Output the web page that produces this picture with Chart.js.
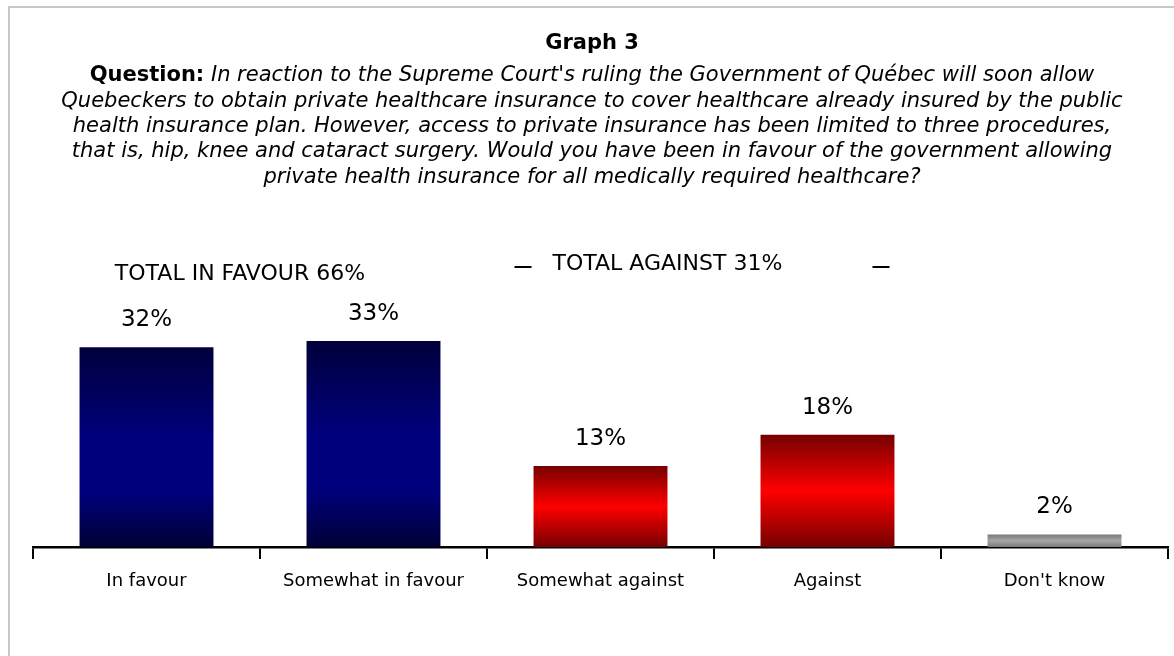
<!DOCTYPE html>
<html>
<head>
<meta charset="utf-8">
<script src="https://cdn.jsdelivr.net/npm/chart.js@4.4.1/dist/chart.umd.min.js"></script>
<style>
    html, body { margin: 0; padding: 0; background: #ffffff; }
    #wrap { position: relative; width: 1174px; height: 656px; }
</style>
</head>
<body>
<div id="wrap"><canvas id="graph3"></canvas></div>
<script>
// 데이터
const categories = ['In favour', 'Somewhat in favour', 'Somewhat against', 'Against', "Don't know"];
const percentValues = [32, 33, 13, 18, 2];
const barGroups = ['favour', 'favour', 'against', 'against', 'unknown'];
const graphTitle = 'Graph 3';
const questionLabel = 'Question:';
const questionLines = [
    " In reaction to the Supreme Court's ruling the Government of Québec will soon allow",
    'Quebeckers to obtain private healthcare insurance to cover healthcare already insured by the public',
    'health insurance plan. However, access to private insurance has been limited to three procedures,',
    'that is, hip, knee and cataract surgery. Would you have been in favour of the government allowing',
    'private health insurance for all medically required healthcare?'
];
const totalLabels = ['TOTAL IN FAVOUR 66%', 'TOTAL AGAINST 31%'];

const SANS = '"DejaVu Sans", Verdana, sans-serif';

// 그라데이션 색상 (위치, 색)
const gradientStops = {
    favour:  [[0, '#00003c'], [0.45, '#00007c'], [0.72, '#00007c'], [1, '#000036']],
    against: [[0, '#760000'], [0.5, '#ff0000'], [1, '#760000']],
    unknown: [[0, '#7a7a7a'], [0.5, '#a6a6a6'], [1, '#7a7a7a']]
};

function barGradient(context) {
    const chart = context.chart;
    if (!chart.chartArea || context.dataIndex === undefined) return '#000080';
    const y = chart.scales.y;
    const top = y.getPixelForValue(percentValues[context.dataIndex]);
    const base = y.getPixelForValue(0);
    const g = chart.ctx.createLinearGradient(0, top, 0, base);
    gradientStops[barGroups[context.dataIndex]].forEach(s => g.addColorStop(s[0], s[1]));
    return g;
}

// 제목, 질문, 합계 표시 플러그인
const textPlugin = {
    id: 'graphText',
    afterDraw(chart) {
        const ctx = chart.ctx;
        const cx = 592;
        ctx.save();
        ctx.fillStyle = '#000000';
        ctx.textBaseline = 'middle';

        // 테두리 (위, 왼쪽)
        ctx.strokeStyle = '#c8c8c8';
        ctx.lineWidth = 2;
        ctx.beginPath();
        ctx.moveTo(9, 656);
        ctx.lineTo(9, 7);
        ctx.lineTo(1174, 7);
        ctx.stroke();

        ctx.textAlign = 'center';
        ctx.font = 'bold 21px ' + SANS;
        ctx.fillText(graphTitle, cx, 44);

        // 첫 줄: 굵은 "Question:" + 기울임 텍스트
        const boldFont = 'bold 21px ' + SANS;
        const italicFont = 'italic 21px ' + SANS;
        ctx.font = boldFont;
        const wBold = ctx.measureText(questionLabel).width;
        ctx.font = italicFont;
        const wFirst = ctx.measureText(questionLines[0]).width;
        const x0 = cx - (wBold + wFirst) / 2;
        ctx.textAlign = 'left';
        ctx.font = boldFont;
        ctx.fillText(questionLabel, x0, 76);
        ctx.font = italicFont;
        ctx.fillText(questionLines[0], x0 + wBold, 76);

        ctx.textAlign = 'center';
        for (let i = 1; i < questionLines.length; i++) {
            ctx.fillText(questionLines[i], cx, 76 + i * 25.3);
        }

        // 합계 라벨
        const xs = chart.scales.x;
        const p0 = xs.getPixelForValue(0), p1 = xs.getPixelForValue(1);
        const p2 = xs.getPixelForValue(2), p3 = xs.getPixelForValue(3);
        ctx.font = '22px ' + SANS;
        ctx.fillText(totalLabels[0], (p0 + p1) / 2 - 20, 274);
        ctx.textAlign = 'left';
        const againstLeft = p2 - 48;
        ctx.fillText(totalLabels[1], againstLeft, 264);
        ctx.strokeStyle = '#000000';
        ctx.lineWidth = 2;
        ctx.beginPath();
        ctx.moveTo(againstLeft - 38, 267);
        ctx.lineTo(againstLeft - 21, 267);
        ctx.moveTo(p3 + 45, 267);
        ctx.lineTo(p3 + 62, 267);
        ctx.stroke();

        // 막대 위 값 라벨
        ctx.textAlign = 'center';
        ctx.font = '23px ' + SANS;
        chart.getDatasetMeta(0).data.forEach((bar, i) => {
            ctx.fillText(percentValues[i] + '%', bar.x, bar.y - 27);
        });
        ctx.restore();
    }
};

new Chart(document.getElementById('graph3'), {
    type: 'bar',
    data: {
        labels: categories,
        datasets: [{
            data: percentValues,
            backgroundColor: barGradient,
            borderWidth: 0,
            categoryPercentage: 1,
            barPercentage: 0.59
        }]
    },
    options: {
        responsive: true,
        maintainAspectRatio: false,
        animation: false,
        devicePixelRatio: 1,
        layout: {
            padding: { top: 260, left: 33, right: 6, bottom: 49 }
        },
        plugins: {
            legend: { display: false },
            title: { display: false },
            tooltip: { enabled: false }
        },
        scales: {
            x: {
                afterFit(scale) { scale.height = 60; },
                grid: {
                    display: true,
                    drawOnChartArea: false,
                    drawTicks: true,
                    tickLength: 12,
                    color: '#000000',
                    lineWidth: 2
                },
                border: { display: true, color: '#000000', width: 2.5 },
                ticks: {
                    color: '#000000',
                    padding: 12,
                    font: { family: SANS, size: 18 }
                }
            },
            y: {
                display: false,
                min: 0,
                max: 46
            }
        }
    },
    plugins: [textPlugin]
});
</script>
</body>
</html>
